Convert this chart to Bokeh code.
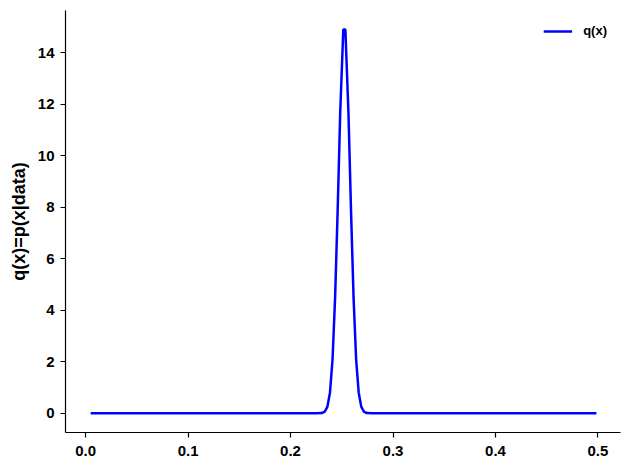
from bokeh.plotting import figure
from bokeh.models import Range1d, FixedTicker, PrintfTickFormatter, Legend, LegendItem
from bokeh.embed import file_html
from bokeh.resources import INLINE

# Data
x_vals = [0.005, 0.225, 0.2305, 0.2335, 0.236, 0.2385, 0.241, 0.2435, 0.246, 0.2485,
          0.2515, 0.2535, 0.2565, 0.259, 0.2615, 0.264, 0.2665, 0.269, 0.2715, 0.2745,
          0.28, 0.4985]
q_vals = [0.0, 0.0, 0.01, 0.07, 0.26, 0.81, 2.1, 4.5, 7.9, 11.7,
          14.9, 14.9, 11.7, 7.9, 4.5, 2.1, 0.81, 0.26, 0.07, 0.01,
          0.0, 0.0]
x_ticks = [0.0, 0.1, 0.2, 0.3, 0.4, 0.5]
y_ticks = [0, 2, 4, 6, 8, 10, 12, 14]

FONT = "Liberation Sans"

p = figure(width=622, height=466, output_backend="svg", toolbar_location=None,
           x_range=Range1d(-0.0196, 0.522), y_range=Range1d(-0.745, 15.64),
           min_border_left=65, min_border_right=2, min_border_top=10, min_border_bottom=34)

r = p.line(x_vals, q_vals, line_color="#0000ff", line_width=2.5)

p.outline_line_color = None
p.xgrid.visible = False
p.ygrid.visible = False

for ax in (p.xaxis[0], p.yaxis[0]):
    ax.axis_line_color = "black"
    ax.axis_line_width = 1.2
    ax.major_tick_line_color = "black"
    ax.major_tick_line_width = 1.2
    ax.major_tick_out = 5
    ax.major_tick_in = 0
    ax.minor_tick_line_color = None
    ax.major_label_text_font = FONT
    ax.major_label_text_font_style = "bold"
    ax.major_label_text_font_size = "15px"
    ax.major_label_text_color = "black"

p.xaxis[0].major_label_standoff = 8
p.yaxis[0].major_label_standoff = 6
p.xaxis[0].ticker = FixedTicker(ticks=x_ticks)
p.xaxis[0].formatter = PrintfTickFormatter(format="%.1f")
p.yaxis[0].ticker = FixedTicker(ticks=y_ticks)

p.yaxis[0].axis_label = "q(x)=p(x|data)"
p.yaxis[0].axis_label_text_font = FONT
p.yaxis[0].axis_label_text_font_style = "bold"
p.yaxis[0].axis_label_text_font_size = "18px"
p.yaxis[0].axis_label_text_color = "black"
p.yaxis[0].axis_label_standoff = 6

legend = Legend(items=[LegendItem(label="q(x)", renderers=[r])], location="top_right")
legend.border_line_color = None
legend.background_fill_alpha = 0
legend.label_text_font = FONT
legend.label_text_font_style = "bold"
legend.label_text_font_size = "13px"
legend.label_text_color = "black"
legend.glyph_width = 29
legend.glyph_height = 12
legend.label_standoff = 11
legend.margin = 13
legend.padding = 4
p.add_layout(legend)

open("out.html", "w").write(file_html(p, INLINE))
